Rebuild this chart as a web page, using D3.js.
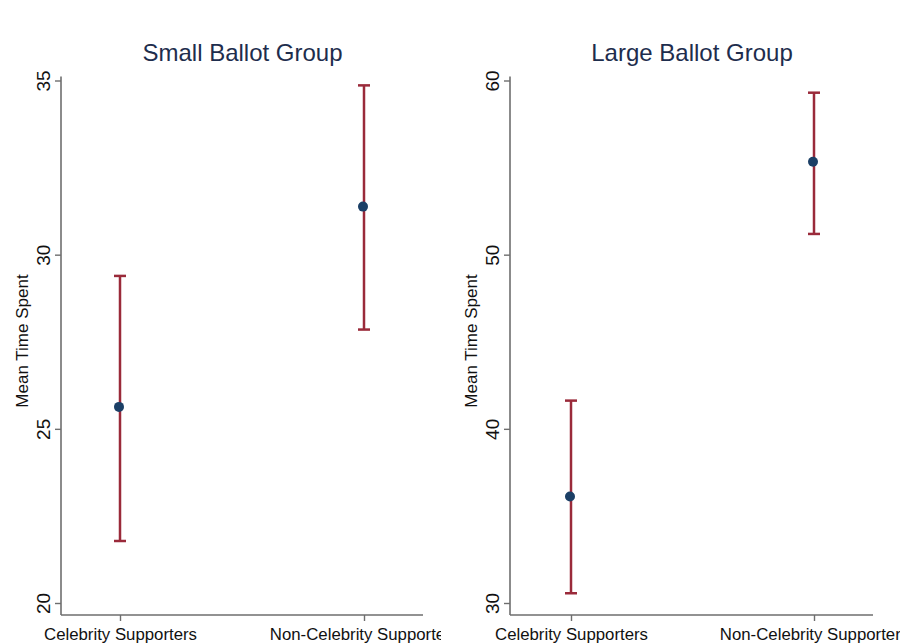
<!DOCTYPE html>
<html>
<head>
<meta charset="utf-8">
<script src="https://cdn.jsdelivr.net/npm/d3@7"></script>
<style>
  html, body { margin: 0; padding: 0; background: #fff; }
  svg { display: block; font-family: "Liberation Sans", Arial, Helvetica, sans-serif; }
</style>
</head>
<body>
<svg id="chart" width="900" height="644"></svg>
<script>
// Categories shared by both panels
const categories = ["Celebrity Supporters", "Non-Celebrity Supporters"];

// Small ballot group: means and 95% confidence bounds
const smallMeans = [25.63, 31.38];
const smallLower = [21.78, 27.85];
const smallUpper = [29.39, 34.86];
const smallTicks = [20, 25, 30, 35];

// Large ballot group: means and 95% confidence bounds
const largeMeans = [36.11, 55.34];
const largeLower = [30.56, 51.19];
const largeUpper = [41.62, 59.30];
const largeTicks = [30, 40, 50, 60];

const panels = [
  { title: "Small Ballot Group", means: smallMeans, lower: smallLower, upper: smallUpper,
    ticks: smallTicks, domain: [20, 35], x0: 61, x1: 423, clipL: 0, clipR: 441, catX: [120, 364], titleX: 242.5 },
  { title: "Large Ballot Group", means: largeMeans, lower: largeLower, upper: largeUpper,
    ticks: largeTicks, domain: [30, 60], x0: 510, x1: 873, clipL: 450, clipR: 900, catX: [571, 814], titleX: 692 }
];

const svg = d3.select("#chart");
const yTop = 80.5, yBottom = 603, axisY = 615;
const axisColor = "#6e6e6e";
const barColor = "#9a2a3a";
const dotColor = "#1b3f66";
const titleColor = "#1e2d4d";

panels.forEach((p, i) => {
  const clipId = "clip" + i;
  svg.append("clipPath").attr("id", clipId)
    .append("rect").attr("x", p.clipL).attr("y", 0).attr("width", p.clipR - p.clipL).attr("height", 644);

  const g = svg.append("g").attr("clip-path", `url(#${clipId})`);

  const y = d3.scaleLinear().domain(p.domain).range([yBottom, yTop]);
  const x = d3.scalePoint().domain(categories).range(p.catX);

  // panel title
  g.append("text")
    .attr("x", p.titleX)
    .attr("y", 61)
    .attr("text-anchor", "middle")
    .attr("font-size", 24)
    .attr("fill", titleColor)
    .text(p.title);

  // y axis
  const yAxis = d3.axisLeft(y).tickValues(p.ticks).tickSize(6).tickFormat(d3.format("d"));
  const ya = g.append("g").attr("transform", `translate(${p.x0},0)`).call(yAxis);
  ya.select(".domain").attr("d", `M0,${yTop - 4}V${axisY}`).attr("stroke", axisColor).attr("stroke-width", 1.6);
  ya.selectAll(".tick line").attr("stroke", axisColor).attr("stroke-width", 1.4);
  ya.selectAll(".tick text")
    .attr("font-size", 19)
    .attr("fill", "#111")
    .attr("text-anchor", "middle")
    .attr("x", null).attr("dy", null)
    .attr("transform", "translate(-11,0) rotate(-90)");

  // y axis title
  g.append("text")
    .attr("transform", `translate(${p.x0 - 33},${341}) rotate(-90)`)
    .attr("text-anchor", "middle")
    .attr("font-size", 17)
    .attr("fill", "#111")
    .text("Mean Time Spent");

  // x axis
  const xAxis = d3.axisBottom(x).tickSize(6).tickPadding(7);
  const xa = g.append("g").attr("transform", `translate(0,${axisY})`).call(xAxis);
  xa.select(".domain").attr("d", `M${p.x0},0H${p.x1}`).attr("stroke", axisColor).attr("stroke-width", 1.6);
  xa.selectAll(".tick line").attr("stroke", axisColor).attr("stroke-width", 1.4);
  xa.selectAll(".tick text").attr("font-size", 16.8).attr("fill", "#111").attr("dy", "0.71em");

  // confidence interval bars with caps
  const capW = 6;
  const bars = g.append("g");
  categories.forEach((c, j) => {
    const cx = x(c);
    bars.append("line")
      .attr("x1", cx).attr("x2", cx)
      .attr("y1", y(p.lower[j])).attr("y2", y(p.upper[j]))
      .attr("stroke", barColor).attr("stroke-width", 2.5);
    [p.lower[j], p.upper[j]].forEach(v => {
      bars.append("line")
        .attr("x1", cx - capW).attr("x2", cx + capW)
        .attr("y1", y(v)).attr("y2", y(v))
        .attr("stroke", barColor).attr("stroke-width", 2.5);
    });
  });

  // group means
  g.append("g").selectAll("circle")
    .data(p.means)
    .join("circle")
    .attr("cx", (d, j) => x(categories[j]) - 1)
    .attr("cy", d => y(d))
    .attr("r", 5)
    .attr("fill", dotColor);
});
</script>
</body>
</html>
